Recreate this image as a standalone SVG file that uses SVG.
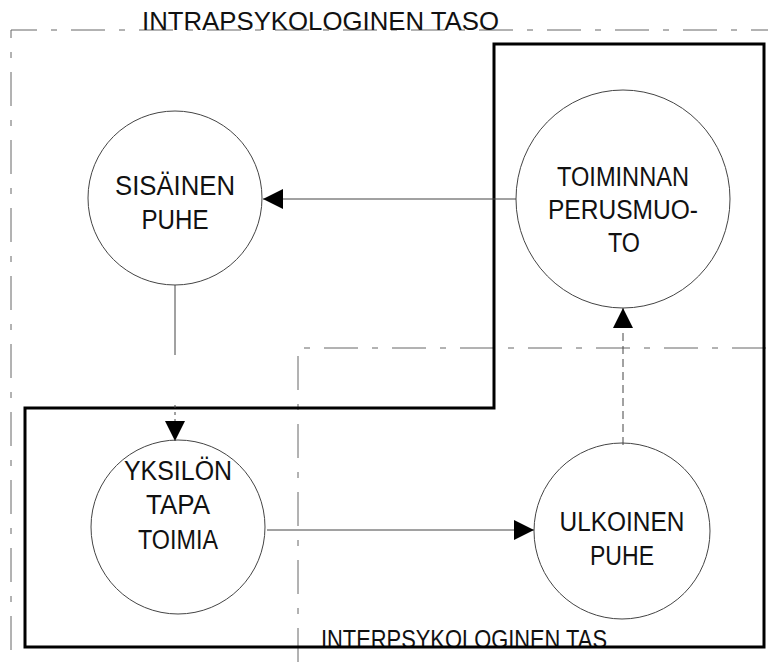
<svg xmlns="http://www.w3.org/2000/svg" width="768" height="662" viewBox="0 0 768 662">
  <style>
    .lbl { font-family: "Liberation Sans", Arial, sans-serif; font-size: 27px; fill: #111; text-anchor: middle; }
    .zone-lbl { font-family: "Liberation Sans", Arial, sans-serif; font-size: 25px; fill: #111; }
    .node { fill: none; stroke: #444; stroke-width: 1; }
    .zone { fill: none; stroke: #666; stroke-width: 1; stroke-dasharray: 34 14 6 14; }
    .frame { fill: none; stroke: #000; stroke-width: 3; }
    .link { fill: none; stroke: #444; stroke-width: 1; }
  </style>
  <defs>
    <marker id="tip" viewBox="0 0 20 20" refX="20" refY="10" markerWidth="20" markerHeight="20" markerUnits="userSpaceOnUse" orient="auto">
      <path d="M0,0 L20,10 L0,20 Z" fill="#000"/>
    </marker>
  </defs>
  <rect width="768" height="662" fill="#fff"/>

  <!-- dashed level boundaries -->
  <g id="levels">
    <path class="zone" d="M11,650 V30 H768"/>
    <path class="zone" d="M298,662 V348 H768"/>
    <text class="zone-lbl" x="142" y="30" textLength="357" lengthAdjust="spacingAndGlyphs">INTRAPSYKOLOGINEN TASO</text>
    <text class="zone-lbl" x="321" y="648" textLength="286" lengthAdjust="spacingAndGlyphs">INTERPSYKOLOGINEN TAS</text>
  </g>

  <!-- heavy L-shaped frame -->
  <path id="frame" class="frame" d="M494,44 H764 V647 H25 V408 H494 Z"/>

  <!-- connectors -->
  <g id="connectors">
    <line class="link" x1="516" y1="199" x2="263" y2="199" marker-end="url(#tip)"/>
    <line class="link" x1="175" y1="285" x2="175" y2="441" stroke-dasharray="70 50 3 4 3 4 3 4 3 4" marker-end="url(#tip)"/>
    <line class="link" x1="267" y1="530" x2="534" y2="530" marker-end="url(#tip)"/>
    <line class="link" x1="623" y1="445" x2="623" y2="308" stroke-dasharray="8 5" marker-end="url(#tip)"/>
  </g>

  <g id="sisainen-puhe">
    <circle class="node" cx="175" cy="198" r="87"/>
    <text class="lbl" x="175" y="195" textLength="120" lengthAdjust="spacingAndGlyphs">SISÄINEN</text>
    <text class="lbl" x="175" y="229" textLength="67" lengthAdjust="spacingAndGlyphs">PUHE</text>
  </g>

  <g id="toiminnan-perusmuoto">
    <ellipse class="node" cx="623" cy="199" rx="107" ry="109"/>
    <text class="lbl" x="623" y="186" textLength="132" lengthAdjust="spacingAndGlyphs">TOIMINNAN</text>
    <text class="lbl" x="623" y="219" textLength="150" lengthAdjust="spacingAndGlyphs">PERUSMUO-</text>
    <text class="lbl" x="624" y="252" textLength="32" lengthAdjust="spacingAndGlyphs">TO</text>
  </g>

  <g id="yksilon-tapa-toimia">
    <circle class="node" cx="178" cy="527" r="87"/>
    <text class="lbl" x="178" y="480" textLength="108" lengthAdjust="spacingAndGlyphs">YKSILÖN</text>
    <text class="lbl" x="178" y="514" textLength="64" lengthAdjust="spacingAndGlyphs">TAPA</text>
    <text class="lbl" x="178" y="549" textLength="80" lengthAdjust="spacingAndGlyphs">TOIMIA</text>
  </g>

  <g id="ulkoinen-puhe">
    <circle class="node" cx="622" cy="531" r="88"/>
    <text class="lbl" x="622" y="531" textLength="125" lengthAdjust="spacingAndGlyphs">ULKOINEN</text>
    <text class="lbl" x="622" y="565" textLength="64" lengthAdjust="spacingAndGlyphs">PUHE</text>
  </g>
</svg>
